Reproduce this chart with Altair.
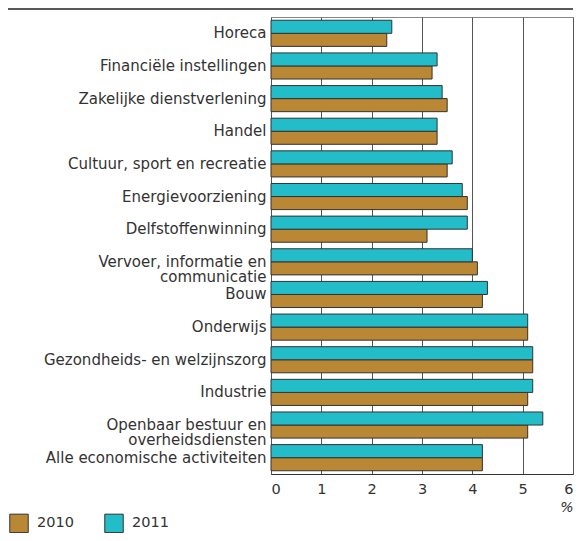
import altair as alt
import pandas as pd

categories = [
    "Horeca",
    "Financiële instellingen",
    "Zakelijke dienstverlening",
    "Handel",
    "Cultuur, sport en recreatie",
    "Energievoorziening",
    "Delfstoffenwinning",
    "Vervoer, informatie en|communicatie",
    "Bouw",
    "Onderwijs",
    "Gezondheids- en welzijnszorg",
    "Industrie",
    "Openbaar bestuur en|overheidsdiensten",
    "Alle economische activiteiten",
]
v2010 = [2.3, 3.2, 3.5, 3.3, 3.5, 3.9, 3.1, 4.1, 4.2, 5.1, 5.2, 5.1, 5.1, 4.2]
v2011 = [2.4, 3.3, 3.4, 3.3, 3.6, 3.8, 3.9, 4.0, 4.3, 5.1, 5.2, 5.2, 5.4, 4.2]
years = ["2010", "2011"]
colors = ["#BA8734", "#22BDC9"]
x_ticks = [0, 1, 2, 3, 4, 5, 6]

rows = []
for c, a, b in zip(categories, v2010, v2011):
    rows.append({"cat": c, "year": "2010", "value": a, "ord": 1})
    rows.append({"cat": c, "year": "2011", "value": b, "ord": 0})
df = pd.DataFrame(rows)

FONT = "DejaVu Sans"
TXT = "#333333"

bars = alt.Chart(df).mark_bar(stroke="#333333", strokeWidth=1).encode(
    x=alt.X("value:Q", scale=alt.Scale(domain=[0, 6], nice=False),
            axis=alt.Axis(values=x_ticks, grid=True, gridColor="#555555", gridWidth=1,
                          ticks=False, domainColor="#333333", labelPadding=8,
                          labelFontSize=14.5, labelColor=TXT, labelFont=FONT,
                          title="%", titleFont=FONT, titleFontSize=14, titleFontWeight="normal",
                          titleFontStyle="italic", titleColor=TXT,
                          titleAnchor="end", titleAlign="right", titleX=302, titleY=26,
                          titleBaseline="top")),
    y=alt.Y("cat:N", sort=categories,
            scale=alt.Scale(paddingInner=0.2, paddingOuter=0.1),
            axis=alt.Axis(title=None, ticks=False, domain=False, labelPadding=5,
                          labelFontSize=15, labelColor=TXT, labelFont=FONT,
                          labelLimit=300, labelLineHeight=15,
                          labelExpr="split(datum.label, '|')")),
    yOffset=alt.YOffset("ord:O", scale=alt.Scale(paddingInner=0, paddingOuter=0)),
    color=alt.Color("year:N", scale=alt.Scale(domain=years, range=colors),
                    legend=alt.Legend(title=None, orient="none", legendX=-262, legendY=496,
                                      padding=0, direction="horizontal", symbolType="square",
                                      symbolSize=340, symbolStrokeColor="#333333",
                                      symbolStrokeWidth=1, labelFontSize=14.5,
                                      labelFont=FONT, labelColor=TXT,
                                      labelOffset=8, columnPadding=28)),
)

rule = alt.Chart(pd.DataFrame({"a": [0]})).mark_rule(color="#222222", strokeWidth=1.5).encode(
    x=alt.value(-263), x2=alt.value(302), y=alt.value(-8)
)

chart = alt.layer(bars, rule).properties(
    width=302, height=457,
    autosize=alt.AutoSizeParams(type="none"),
    padding={"left": 263, "top": 9, "right": 1, "bottom": 59},
).configure_view(stroke="#888888", strokeWidth=1)

chart.save("out.html", embed_options={"renderer": "svg", "actions": False})
